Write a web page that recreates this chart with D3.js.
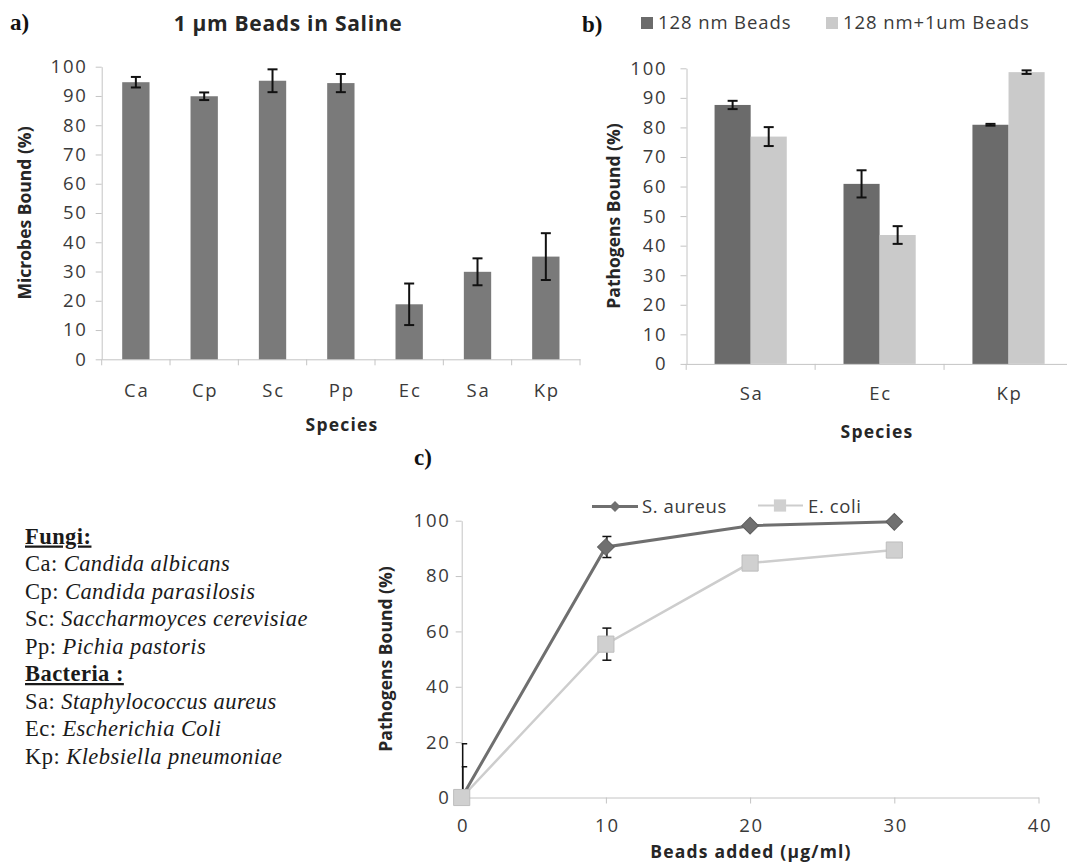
<!DOCTYPE html>
<html>
<head>
<meta charset="utf-8">
<script src="https://cdn.jsdelivr.net/npm/d3@7"></script>
<style>
  body { margin: 0; background: #fff; }
  svg { display: block; }
</style>
</head>
<body>
<script>
// panel a: 1 um beads in saline
var catsA = ["Ca", "Cp", "Sc", "Pp", "Ec", "Sa", "Kp"];
var boundA = [94.7, 89.9, 95.2, 94.4, 18.8, 29.9, 35.1];
var errA = [1.8, 1.3, 3.9, 3.1, 7.1, 4.6, 8.0];

// panel b: 128 nm vs 128 nm + 1 um beads
var catsB = ["Sa", "Ec", "Kp"];
var seriesB = ["128 nm Beads", "128 nm+1um Beads"];
var bound128 = [87.6, 60.9, 80.9];
var err128 = [1.4, 4.6, 0.3];
var bound128plus = [76.9, 43.6, 98.7];
var err128plus = [3.2, 3.0, 0.6];

// panel c: dose response
var beadsAdded = [0, 10, 20, 30];
var xTicksC = [0, 10, 20, 30, 40];
var yTicksC = [0, 20, 40, 60, 80, 100];
var sAureus = [0, 90.5, 98.2, 99.6];
var sAureusErr = [19.4, 3.8, 0, 0];
var eColi = [0, 55.4, 84.7, 89.4];
var eColiErr = [11.1, 5.8, 0, 0];
var seriesC = ["S. aureus", "E. coli"];

// species key
var fungiCodes = ["Ca", "Cp", "Sc", "Pp"];
var fungiNames = ["Candida albicans", "Candida parasilosis", "Saccharmoyces cerevisiae", "Pichia pastoris"];
var bactCodes = ["Sa", "Ec", "Kp"];
var bactNames = ["Staphylococcus aureus", "Escherichia Coli", "Klebsiella pneumoniae"];

var W = 1067, H = 863;
var axisCol = "#c4c4c4";
var tickCol = "#3a3a3a";
var titleCol = "#262626";
var sans = "'Open Sans', sans-serif";
var serif = "'Liberation Serif', 'Times New Roman', serif";

var svg = d3.select("body").append("svg")
    .attr("width", W)
    .attr("height", H);

// the source figure is stretched sideways, so horizontal text gets some letter spacing
function styleAxis(g) {
    g.select(".domain").attr("stroke", axisCol).attr("stroke-width", 1);
    g.selectAll(".tick line").attr("stroke", axisCol);
    g.selectAll(".tick text").attr("fill", tickCol)
        .style("font-family", sans).style("font-size", "18.5px").style("letter-spacing", "1.8px");
}

function errBar(g, x, yTop, yBot, cap) {
    g.append("line").attr("x1", x).attr("x2", x).attr("y1", yTop).attr("y2", yBot);
    g.append("line").attr("x1", x - cap / 2).attr("x2", x + cap / 2).attr("y1", yTop).attr("y2", yTop);
    g.append("line").attr("x1", x - cap / 2).attr("x2", x + cap / 2).attr("y1", yBot).attr("y2", yBot);
}

function panelLabel(txt, x, y) {
    svg.append("text").attr("x", x).attr("y", y)
        .style("font-family", serif).style("font-weight", "bold").style("font-size", "23px")
        .attr("fill", "#111").text(txt);
}

function axisTitle(txt, x, y, rot) {
    svg.append("text")
        .attr("transform", "translate(" + x + "," + y + ")" + (rot ? " rotate(-90)" : ""))
        .attr("text-anchor", "middle")
        .style("font-family", sans).style("font-weight", "bold").style("font-size", "17.5px")
        .style("letter-spacing", rot ? "0px" : "1.2px")
        .attr("fill", titleCol).text(txt);
}

// ---------------- panel a ----------------
var xA = d3.scaleBand().domain(catsA).range([101.7, 580]);
var xBarA = d3.scaleBand().domain(catsA).range([101.7, 580]).paddingInner(0.6).paddingOuter(0.3);
var yA = d3.scaleLinear().domain([0, 100]).range([359.3, 66.7]);

svg.append("g").attr("transform", "translate(101.7,0)")
    .call(d3.axisLeft(yA).tickValues(d3.range(0, 101, 10)).tickSize(6).tickSizeOuter(0).tickPadding(8))
    .call(styleAxis);

var gxA = svg.append("g").attr("transform", "translate(0," + yA(0) + ")")
    .call(d3.axisBottom(xA).tickSize(0).tickSizeOuter(0))
    .call(styleAxis);
gxA.selectAll(".tick text").attr("y", 37.5).attr("dy", 0).attr("dx", 1);
gxA.selectAll(".bound").data(catsA.concat([null])).enter().append("line")
    .attr("x1", function(d) { return d ? xA(d) : xA.range()[1]; })
    .attr("x2", function(d) { return d ? xA(d) : xA.range()[1]; })
    .attr("y1", 0).attr("y2", 6).attr("stroke", axisCol);

svg.append("g").selectAll("rect").data(catsA).enter().append("rect")
    .attr("x", function(d) { return xBarA(d); })
    .attr("width", xBarA.bandwidth())
    .attr("y", function(d, i) { return yA(boundA[i]); })
    .attr("height", function(d, i) { return yA(0) - yA(boundA[i]); })
    .attr("fill", "#7a7a7a");

var ebA = svg.append("g").attr("stroke", "#111").attr("stroke-width", 2);
catsA.forEach(function(c, i) {
    errBar(ebA, xBarA(c) + xBarA.bandwidth() / 2, yA(boundA[i] + errA[i]), yA(boundA[i] - errA[i]), 10);
});

panelLabel("a)", 10, 30);
svg.append("text").attr("x", 288).attr("y", 31).attr("text-anchor", "middle")
    .style("font-family", sans).style("font-weight", "bold").style("font-size", "21px")
    .style("letter-spacing", "0.7px")
    .attr("fill", titleCol).text("1 \u03bcm Beads in Saline");
axisTitle("Microbes Bound (%)", 31, 213, true);
axisTitle("Species", 342, 431, false);

// ---------------- panel b ----------------
var xB = d3.scaleBand().domain(catsB).range([686.2, 1073]);
var xB0 = d3.scaleBand().domain(catsB).range([686.2, 1073]).paddingInner(0.44).paddingOuter(0.22);
var xB1 = d3.scaleBand().domain(seriesB).range([0, xB0.bandwidth()]);
var yB = d3.scaleLinear().domain([0, 100]).range([363.9, 68.3]);
var colB = d3.scaleOrdinal().domain(seriesB).range(["#6b6b6b", "#cacaca"]);
var valsB = [bound128, bound128plus];
var errsB = [err128, err128plus];

svg.append("g").attr("transform", "translate(686.5,0)")
    .call(d3.axisLeft(yB).tickValues(d3.range(0, 101, 10)).tickSize(6).tickSizeOuter(0).tickPadding(13))
    .call(styleAxis);

var gxB = svg.append("g").attr("transform", "translate(0," + yB(0) + ")")
    .call(d3.axisBottom(xB).tickSize(0).tickSizeOuter(0))
    .call(styleAxis);
gxB.selectAll(".tick text").attr("y", 36.5).attr("dy", 0).attr("dx", 1);
gxB.selectAll(".bound").data(catsB).enter().append("line")
    .attr("x1", function(d) { return xB(d); })
    .attr("x2", function(d) { return xB(d); })
    .attr("y1", 0).attr("y2", 6).attr("stroke", axisCol);

var groupsB = svg.append("g").selectAll("g").data(catsB).enter().append("g")
    .attr("transform", function(d) { return "translate(" + xB0(d) + ",0)"; });
groupsB.selectAll("rect").data(function(d, i) {
        return seriesB.map(function(s, k) { return { s: s, v: valsB[k][i], e: errsB[k][i] }; });
    })
    .enter().append("rect")
    .attr("x", function(d) { return xB1(d.s); })
    .attr("width", xB1.bandwidth())
    .attr("y", function(d) { return yB(d.v); })
    .attr("height", function(d) { return yB(0) - yB(d.v); })
    .attr("fill", function(d) { return colB(d.s); });

var ebB = svg.append("g").attr("stroke", "#111").attr("stroke-width", 2);
catsB.forEach(function(c, i) {
    seriesB.forEach(function(s, k) {
        var cx = xB0(c) + xB1(s) + xB1.bandwidth() / 2;
        errBar(ebB, cx, yB(valsB[k][i] + errsB[k][i]), yB(valsB[k][i] - errsB[k][i]), 10);
    });
});

panelLabel("b)", 582, 32);
var legB = svg.append("g");
var legBx = [641, 826];
seriesB.forEach(function(s, k) {
    legB.append("rect").attr("x", legBx[k]).attr("y", 17).attr("width", 12).attr("height", 12)
        .attr("fill", colB(s));
    legB.append("text").attr("x", legBx[k] + 17).attr("y", 28.5)
        .style("font-family", sans).style("font-size", "18.5px").style("letter-spacing", "0.9px")
        .attr("fill", tickCol).text(s);
});
axisTitle("Pathogens Bound (%)", 620, 216, true);
axisTitle("Species", 877, 438, false);

// ---------------- panel c ----------------
var xC = d3.scaleLinear().domain([0, 40]).range([461.7, 1038.5]);
var yC = d3.scaleLinear().domain([0, 100]).range([797.5, 520.7]);

svg.append("g").attr("transform", "translate(461.7,0)")
    .call(d3.axisLeft(yC).tickValues(yTicksC).tickSize(6).tickSizeOuter(0).tickPadding(5))
    .call(styleAxis);
var gxC = svg.append("g").attr("transform", "translate(0," + yC(0) + ")")
    .call(d3.axisBottom(xC).tickValues(xTicksC).tickSize(6).tickSizeOuter(0))
    .call(styleAxis);
gxC.selectAll(".tick text").attr("y", 34.5).attr("dy", 0).attr("dx", 1);

svg.append("clipPath").attr("id", "clipC").append("rect")
    .attr("x", xC(0)).attr("y", 480).attr("width", xC(40) - xC(0)).attr("height", yC(0) - 480);

var seriesCData = [
    { name: seriesC[0], vals: sAureus, errs: sAureusErr, col: "#6f6f6f", w: 3 },
    { name: seriesC[1], vals: eColi, errs: eColiErr, col: "#cdcdcd", w: 2.5 }
];

var lineC = d3.line()
    .x(function(d) { return xC(d[0]); })
    .y(function(d) { return yC(d[1]); });

// lighter series behind
[1, 0].forEach(function(k) {
    var s = seriesCData[k];
    svg.append("path")
        .datum(beadsAdded.map(function(b, i) { return [b, s.vals[i]]; }))
        .attr("d", lineC).attr("fill", "none")
        .attr("stroke", s.col).attr("stroke-width", s.w);
});

var ebC = svg.append("g").attr("clip-path", "url(#clipC)").attr("stroke", "#111").attr("stroke-width", 1.5);
seriesCData.forEach(function(s) {
    beadsAdded.forEach(function(b, i) {
        if (s.errs[i] > 0) errBar(ebC, xC(b) + 1, yC(s.vals[i] + s.errs[i]), yC(s.vals[i] - s.errs[i]), 9);
    });
});

var diamond = d3.symbol().type(d3.symbolSquare).size(140);
var square = d3.symbol().type(d3.symbolSquare).size(260);

svg.append("g").selectAll("path").data(beadsAdded).enter().append("path")
    .attr("d", square)
    .attr("transform", function(d, i) { return "translate(" + xC(d) + "," + yC(eColi[i]) + ")"; })
    .attr("fill", "#d0d0d0").attr("stroke", "#bdbdbd").attr("stroke-width", 1);
svg.append("g").selectAll("path").data(beadsAdded.slice(1)).enter().append("path")
    .attr("d", diamond)
    .attr("transform", function(d, i) { return "translate(" + xC(d) + "," + yC(sAureus[i + 1]) + ") rotate(45)"; })
    .attr("fill", "#707070").attr("stroke", "#5e5e5e").attr("stroke-width", 1);

// legend c
var legC = svg.append("g");
legC.append("line").attr("x1", 592).attr("x2", 638).attr("y1", 506.5).attr("y2", 506.5)
    .attr("stroke", "#6f6f6f").attr("stroke-width", 3);
legC.append("path").attr("d", d3.symbol().type(d3.symbolSquare).size(60))
    .attr("transform", "translate(615,506.5) rotate(45)").attr("fill", "#707070");
legC.append("text").attr("x", 642).attr("y", 512.5)
    .style("font-family", sans).style("font-size", "18.5px").style("letter-spacing", "0.6px")
    .attr("fill", tickCol).text(seriesC[0]);
legC.append("line").attr("x1", 758).attr("x2", 803).attr("y1", 505.5).attr("y2", 505.5)
    .attr("stroke", "#cdcdcd").attr("stroke-width", 2);
legC.append("path").attr("d", d3.symbol().type(d3.symbolSquare).size(150))
    .attr("transform", "translate(780,505.5)").attr("fill", "#d0d0d0");
legC.append("text").attr("x", 808).attr("y", 512.5)
    .style("font-family", sans).style("font-size", "18.5px").style("letter-spacing", "0.6px")
    .attr("fill", tickCol).text(seriesC[1]);

panelLabel("c)", 414, 465);
axisTitle("Pathogens Bound (%)", 392, 659, true);
axisTitle("Beads added (\u03bcg/ml)", 751, 857.5, false);

// ---------------- species key ----------------
var key = svg.append("g").style("font-family", serif).style("font-size", "22.5px")
    .style("letter-spacing", "0.45px").attr("fill", "#1a1a1a");
var lineH = 27.5, y0 = 543.5;
var rows = [{ head: "Fungi:" }]
    .concat(fungiCodes.map(function(c, i) { return { code: c, name: fungiNames[i] }; }))
    .concat([{ head: "Bacteria :" }])
    .concat(bactCodes.map(function(c, i) { return { code: c, name: bactNames[i] }; }));
rows.forEach(function(r, i) {
    var t = key.append("text").attr("x", 25).attr("y", y0 + i * lineH);
    if (r.head) {
        t.style("font-weight", "bold").style("text-decoration", "underline").text(r.head);
    } else {
        t.append("tspan").text(r.code + ": ");
        t.append("tspan").style("font-style", "italic").text(r.name);
    }
});
</script>
</body>
</html>
